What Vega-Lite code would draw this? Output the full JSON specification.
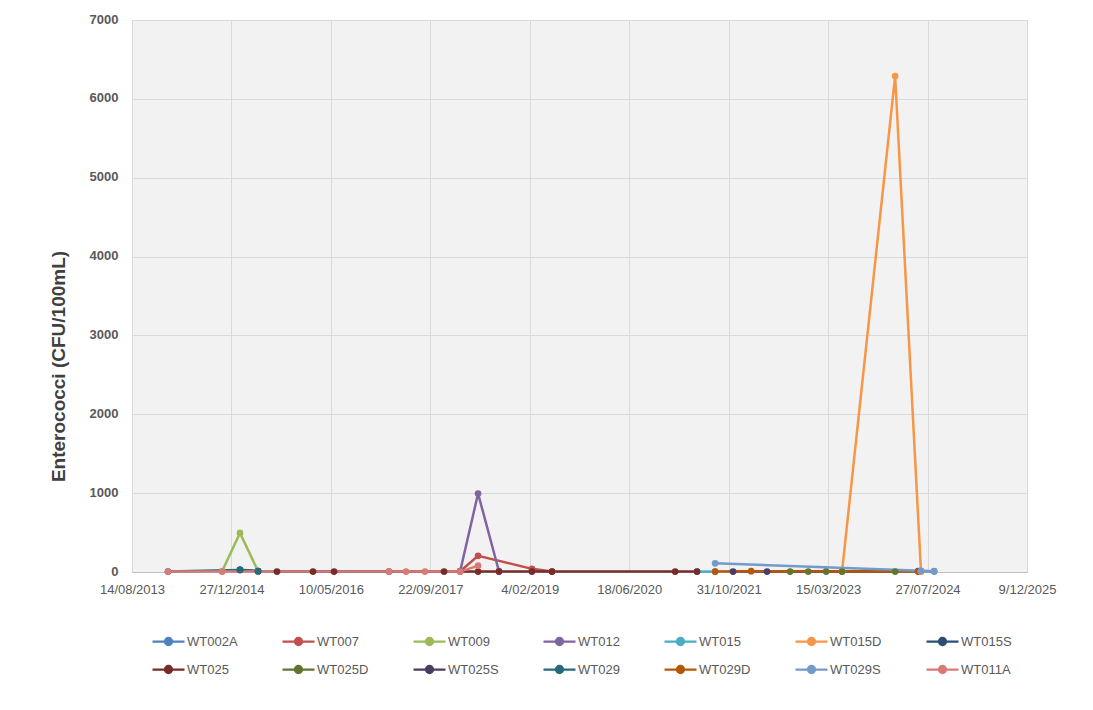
{
  "$schema": "https://vega.github.io/schema/vega-lite/v6.json",
  "width": 895,
  "height": 552,
  "autosize": {"type": "none"},
  "padding": {"left": 132, "top": 20, "right": 66, "bottom": 138},
  "background": "white",
  "config": {
    "font": "Liberation Sans",
    "view": {"fill": "#f2f2f2", "stroke": "#d9d9d9"}
  },
  "data": {
    "values": [
      {"site": "WT002A", "date": "2024/06/24", "value": 10},
      {"site": "WT002A", "date": "2024/08/29", "value": 8},
      {"site": "WT007", "date": "2018/02/19", "value": 10},
      {"site": "WT007", "date": "2018/05/20", "value": 205},
      {"site": "WT007", "date": "2019/02/15", "value": 40},
      {"site": "WT007", "date": "2019/05/27", "value": 5},
      {"site": "WT009", "date": "2014/11/10", "value": 10},
      {"site": "WT009", "date": "2015/02/08", "value": 495},
      {"site": "WT009", "date": "2015/05/10", "value": 10},
      {"site": "WT012", "date": "2018/02/19", "value": 10},
      {"site": "WT012", "date": "2018/05/20", "value": 995},
      {"site": "WT012", "date": "2018/09/02", "value": 10},
      {"site": "WT015", "date": "2021/05/25", "value": 5},
      {"site": "WT015", "date": "2021/08/24", "value": 5},
      {"site": "WT015D", "date": "2023/05/24", "value": 5},
      {"site": "WT015D", "date": "2024/02/15", "value": 6290},
      {"site": "WT015D", "date": "2024/06/24", "value": 5},
      {"site": "WT015S", "date": "2015/02/08", "value": 30},
      {"site": "WT015S", "date": "2015/05/10", "value": 10},
      {"site": "WT025", "date": "2015/08/13", "value": 5},
      {"site": "WT025", "date": "2016/02/10", "value": 5},
      {"site": "WT025", "date": "2016/05/26", "value": 5},
      {"site": "WT025", "date": "2017/11/30", "value": 5},
      {"site": "WT025", "date": "2018/05/20", "value": 5},
      {"site": "WT025", "date": "2018/09/02", "value": 5},
      {"site": "WT025", "date": "2019/02/15", "value": 5},
      {"site": "WT025", "date": "2019/05/27", "value": 5},
      {"site": "WT025", "date": "2021/02/04", "value": 5},
      {"site": "WT025", "date": "2021/05/25", "value": 5},
      {"site": "WT025D", "date": "2022/09/05", "value": 5},
      {"site": "WT025D", "date": "2022/12/05", "value": 5},
      {"site": "WT025D", "date": "2023/03/05", "value": 5},
      {"site": "WT025D", "date": "2023/05/24", "value": 5},
      {"site": "WT025D", "date": "2024/02/15", "value": 5},
      {"site": "WT025S", "date": "2021/11/22", "value": 5},
      {"site": "WT025S", "date": "2022/05/12", "value": 5},
      {"site": "WT025S", "date": "2024/06/10", "value": 10},
      {"site": "WT029", "date": "2014/02/11", "value": 5},
      {"site": "WT029", "date": "2015/02/08", "value": 25},
      {"site": "WT029", "date": "2015/05/10", "value": 10},
      {"site": "WT029", "date": "2017/02/26", "value": 5},
      {"site": "WT029D", "date": "2021/08/24", "value": 5},
      {"site": "WT029D", "date": "2022/02/21", "value": 10},
      {"site": "WT029D", "date": "2024/06/10", "value": 5},
      {"site": "WT029S", "date": "2021/08/24", "value": 110},
      {"site": "WT029S", "date": "2024/06/24", "value": 15},
      {"site": "WT029S", "date": "2024/08/29", "value": 10},
      {"site": "WT011A", "date": "2014/02/11", "value": 5},
      {"site": "WT011A", "date": "2014/11/10", "value": 5},
      {"site": "WT011A", "date": "2017/02/26", "value": 5},
      {"site": "WT011A", "date": "2017/05/23", "value": 5},
      {"site": "WT011A", "date": "2017/08/26", "value": 5},
      {"site": "WT011A", "date": "2018/02/19", "value": 5},
      {"site": "WT011A", "date": "2018/05/20", "value": 80}
    ]
  },
  "encoding": {
    "x": {
      "field": "date",
      "type": "temporal",
      "scale": {"domain": [{"year": 2013, "month": 8, "date": 14}, {"year": 2025, "month": 12, "date": 9}]},
      "axis": {
        "title": null,
        "values": [
          {"year": 2013, "month": 8, "date": 14},
          {"year": 2014, "month": 12, "date": 27},
          {"year": 2016, "month": 5, "date": 10},
          {"year": 2017, "month": 9, "date": 22},
          {"year": 2019, "month": 2, "date": 4},
          {"year": 2020, "month": 6, "date": 18},
          {"year": 2021, "month": 10, "date": 31},
          {"year": 2023, "month": 3, "date": 15},
          {"year": 2024, "month": 7, "date": 27},
          {"year": 2025, "month": 12, "date": 9}
        ],
        "format": "%-d/%m/%Y",
        "labelFontSize": 13,
        "labelColor": "#595959",
        "labelPadding": 11,
        "labelFlush": false,
        "labelOverlap": false,
        "ticks": false,
        "domainColor": "#bfbfbf",
        "gridColor": "#d9d9d9",
        "grid": true
      }
    },
    "y": {
      "field": "value",
      "type": "quantitative",
      "scale": {"domain": [0, 7000], "nice": false},
      "axis": {
        "title": "Enterococci (CFU/100mL)",
        "values": [0, 1000, 2000, 3000, 4000, 5000, 6000, 7000],
        "format": "d",
        "labelFontSize": 13,
        "labelFontWeight": "bold",
        "labelColor": "#595959",
        "labelPadding": 14,
        "labelBaseline": "bottom",
        "labelOffset": 6,
        "ticks": false,
        "domain": false,
        "gridColor": "#d9d9d9",
        "titleFontSize": 19,
        "titleFontWeight": "bold",
        "titleColor": "#404040",
        "titleX": -68,
        "titleY": 346,
        "titleAngle": 270,
        "titleAlign": "center",
        "titleBaseline": "alphabetic"
      }
    },
    "color": {
      "field": "site",
      "type": "nominal",
      "sort": ["WT002A", "WT007", "WT009", "WT012", "WT015", "WT015D", "WT015S", "WT025", "WT025D", "WT025S", "WT029", "WT029D", "WT029S", "WT011A"],
      "scale": {
        "domain": ["WT002A", "WT007", "WT009", "WT012", "WT015", "WT015D", "WT015S", "WT025", "WT025D", "WT025S", "WT029", "WT029D", "WT029S", "WT011A"],
        "range": ["#4f81bd", "#c0504d", "#9bbb59", "#8064a2", "#4bacc6", "#f79646", "#2c4d75", "#772c2a", "#5f7530", "#4d3b62", "#276a7c", "#b65708", "#729aca", "#d87a78"]
      },
      "legend": {
        "title": null,
        "orient": "none",
        "legendX": 19,
        "legendY": 604,
        "direction": "horizontal",
        "columns": 7,
        "columnPadding": 40,
        "rowPadding": 2,
        "symbolType": "M-1,0H1M0.22,0A0.22,0.22,0,1,1,-0.22,0A0.22,0.22,0,1,1,0.22,0Z",
        "symbolSize": 1024,
        "symbolStrokeWidth": 2.25,
        "labelFontSize": 13,
        "labelColor": "#595959",
        "labelOffset": 1,
        "gridAlign": "none",
        "encode": {
          "symbols": {
            "update": {
              "fill": {"scale": "color", "field": "value"},
              "stroke": {"scale": "color", "field": "value"},
              "opacity": {"value": 1}
            }
          }
        }
      }
    },
    "order": {"field": "date", "type": "temporal"}
  },
  "layer": [
    {"mark": {"type": "line", "strokeWidth": 2.5}},
    {"mark": {"type": "point", "filled": true, "size": 45, "opacity": 1}}
  ]
}
